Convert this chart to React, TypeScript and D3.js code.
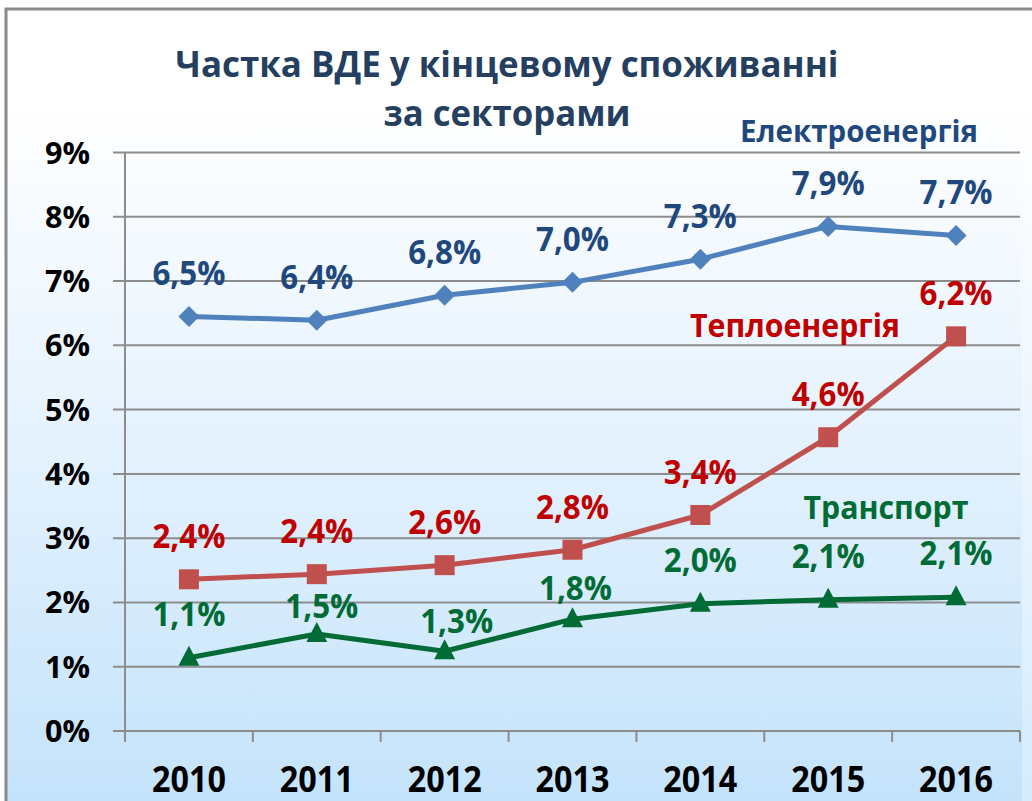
import React from 'react';
import * as d3 from 'd3';

const years = ['2010', '2011', '2012', '2013', '2014', '2015', '2016'];
const electricity = [6.45, 6.39, 6.78, 6.98, 7.34, 7.85, 7.71];
const electricityLabels = ['6,5%', '6,4%', '6,8%', '7,0%', '7,3%', '7,9%', '7,7%'];
const heat = [2.36, 2.44, 2.58, 2.82, 3.36, 4.57, 6.14];
const heatLabels = ['2,4%', '2,4%', '2,6%', '2,8%', '3,4%', '4,6%', '6,2%'];
const transport = [1.14, 1.51, 1.24, 1.74, 1.98, 2.04, 2.08];
const transportLabels = ['1,1%', '1,5%', '1,3%', '1,8%', '2,0%', '2,1%', '2,1%'];
const yTicks = [0, 1, 2, 3, 4, 5, 6, 7, 8, 9];
const yTickLabels = ['0%', '1%', '2%', '3%', '4%', '5%', '6%', '7%', '8%', '9%'];

// label offsets (layout only)
const defaultDx = [0, 0, 0, 0, 0, 0, 0];
const defaultDy = [-31, -31, -31, -31, -31, -31, -31];
const transportDx = [0, 5, 12, 3, 0, 0, 0];
const transportDy = [-32, -16, -18, -19, -32, -32, -32];

const FONT = "'Open Sans', 'Noto Sans', sans-serif";

export default function App() {
  const W = 1032, H = 801;
  const x = d3.scaleBand<string>().domain(years).range([125, 1020]);
  const y = d3.scaleLinear().domain([0, 9]).range([731, 152.5]);
  const cx = (yr: string) => (x(yr) as number) + x.bandwidth() / 2;

  const line = (vals: number[]) =>
    d3.line<number>().x((_, i) => cx(years[i])).y((v) => y(v))(vals) as string;

  const series = [
    { vals: electricity, labels: electricityLabels, line: '#4f81bd', text: '#1f497d', marker: 'diamond', dx: defaultDx, dy: defaultDy },
    { vals: heat, labels: heatLabels, line: '#c0504d', text: '#c00000', marker: 'square', dx: defaultDx, dy: defaultDy },
    { vals: transport, labels: transportLabels, line: '#006b34', text: '#006b34', marker: 'triangle', dx: transportDx, dy: transportDy },
  ];

  const markerPath = (type: string) => {
    if (type === 'diamond') return d3.symbol(d3.symbolDiamond2, 280)() as string;
    if (type === 'square') return 'M-10,-10H10V10H-10Z';
    return 'M0,-12L10.5,8L-10.5,8Z';
  };

  const boundaries = [...years.map((yr) => x(yr) as number), 1020];

  return (
    <svg width={W} height={H} style={{ position: 'absolute', left: 0, top: 0 }} fontFamily={FONT}>
      <defs>
        <linearGradient id="bg" x1="0" y1="0" x2="0" y2="1">
          <stop offset="0" stopColor="#ffffff" />
          <stop offset="0.12" stopColor="#ffffff" />
          <stop offset="0.45" stopColor="#ebf5fe" />
          <stop offset="1" stopColor="#c4e3fb" />
        </linearGradient>
      </defs>
      <rect x={0} y={0} width={W} height={H} fill="#ffffff" />
      <rect x={5} y={8} width={W - 5} height={H - 8} fill="url(#bg)" />
      <rect x={1022} y={8} width={10} height={H - 8} fill="#ffffff" opacity={0.3} />
      <path d={`M6,${H}V9H${W}`} fill="none" stroke="#8a8a8a" strokeWidth={3} />

      {/* gridlines */}
      {yTicks.map((t) => (
        <line key={t} x1={113} x2={1020} y1={y(t)} y2={y(t)} stroke="#8c8c8c" strokeWidth={2} />
      ))}
      {/* y axis */}
      <line x1={125} x2={125} y1={152.5} y2={731} stroke="#8c8c8c" strokeWidth={2} />
      {/* x ticks */}
      {boundaries.map((b, i) => (
        <line key={i} x1={b} x2={b} y1={731} y2={742} stroke="#8c8c8c" strokeWidth={2} />
      ))}

      {/* y labels */}
      {yTicks.map((t, i) => (
        <text key={t} x={90} y={y(t) + 11} textAnchor="end" fontSize={30} fontWeight={700} fill="#000"
          textLength={45} lengthAdjust="spacingAndGlyphs">
          {yTickLabels[i]}
        </text>
      ))}
      {/* x labels */}
      {years.map((yr) => (
        <text key={yr} x={cx(yr)} y={792} textAnchor="middle" fontSize={35} fontWeight={700} fill="#000"
          textLength={74} lengthAdjust="spacingAndGlyphs">
          {yr}
        </text>
      ))}

      {/* lines and markers */}
      {series.map((s, si) => (
        <g key={si}>
          <path d={line(s.vals)} fill="none" stroke={s.line} strokeWidth={5} strokeLinejoin="round" />
          {s.vals.map((v, i) => (
            <path key={i} d={markerPath(s.marker)} transform={`translate(${cx(years[i])},${y(v)})`} fill={s.line} />
          ))}
        </g>
      ))}

      {/* data labels */}
      {series.map((s, si) => (
        <g key={'l' + si}>
          {s.vals.map((v, i) => (
            <text key={i} x={cx(years[i]) + s.dx[i]} y={y(v) + s.dy[i]} textAnchor="middle" fontSize={34}
              fontWeight={700} fill={s.text} textLength={73} lengthAdjust="spacingAndGlyphs">
              {s.labels[i]}
            </text>
          ))}
        </g>
      ))}

      {/* series names */}
      <text x={859} y={142} textAnchor="middle" fontSize={30} fontWeight={700} fill="#1f497d" textLength={238} lengthAdjust="spacingAndGlyphs">Електроенергія</text>
      <text x={795} y={337} textAnchor="middle" fontSize={32} fontWeight={700} fill="#c00000" textLength={210} lengthAdjust="spacingAndGlyphs">Теплоенергія</text>
      <text x={886} y={519} textAnchor="middle" fontSize={32} fontWeight={700} fill="#006b34" textLength={165} lengthAdjust="spacingAndGlyphs">Транспорт</text>

      {/* title */}
      <text x={507} y={76.5} textAnchor="middle" fontSize={36} fontWeight={700} fill="#243f60" textLength={663} lengthAdjust="spacingAndGlyphs">Частка ВДЕ у кінцевому споживанні</text>
      <text x={507} y={126} textAnchor="middle" fontSize={36} fontWeight={700} fill="#243f60" textLength={247} lengthAdjust="spacingAndGlyphs">за секторами</text>
    </svg>
  );
}
